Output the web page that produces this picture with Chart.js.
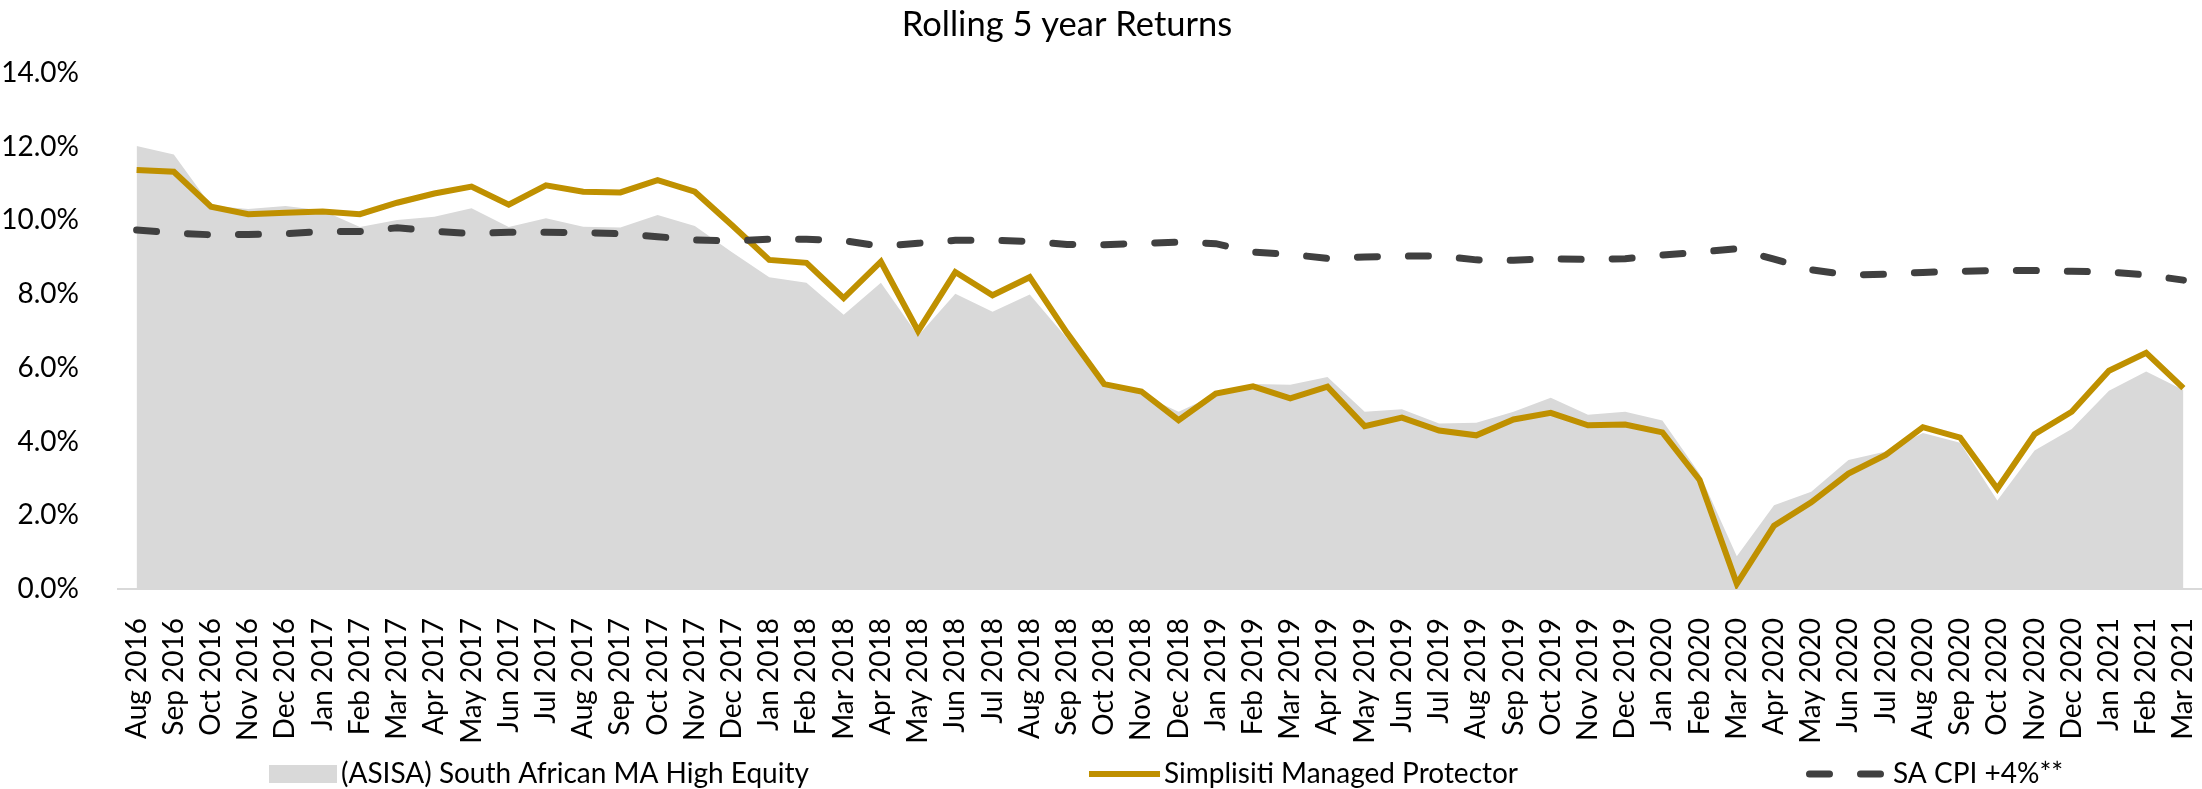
<!DOCTYPE html>
<html>
<head>
<meta charset="utf-8">
<title>Rolling 5 year Returns</title>
<script src="https://cdn.jsdelivr.net/npm/chart.js"></script>
<style>
  html, body { margin: 0; padding: 0; background: #fff; }
  #wrap { width: 2202px; height: 789px; position: relative; }
</style>
</head>
<body>
<div id="wrap"><canvas id="rollingChart"></canvas></div>
<script>
const months = [
  'Aug 2016', 'Sep 2016', 'Oct 2016', 'Nov 2016', 'Dec 2016',
  'Jan 2017', 'Feb 2017', 'Mar 2017', 'Apr 2017', 'May 2017', 'Jun 2017',
  'Jul 2017', 'Aug 2017', 'Sep 2017', 'Oct 2017', 'Nov 2017', 'Dec 2017',
  'Jan 2018', 'Feb 2018', 'Mar 2018', 'Apr 2018', 'May 2018', 'Jun 2018',
  'Jul 2018', 'Aug 2018', 'Sep 2018', 'Oct 2018', 'Nov 2018', 'Dec 2018',
  'Jan 2019', 'Feb 2019', 'Mar 2019', 'Apr 2019', 'May 2019', 'Jun 2019',
  'Jul 2019', 'Aug 2019', 'Sep 2019', 'Oct 2019', 'Nov 2019', 'Dec 2019',
  'Jan 2020', 'Feb 2020', 'Mar 2020', 'Apr 2020', 'May 2020', 'Jun 2020',
  'Jul 2020', 'Aug 2020', 'Sep 2020', 'Oct 2020', 'Nov 2020', 'Dec 2020',
  'Jan 2021', 'Feb 2021', 'Mar 2021'
];

// (ASISA) South African MA High Equity - sector average, %
const sectorReturns = [
  12.02, 11.79, 10.40, 10.31, 10.39,
  10.27, 9.82, 10.01, 10.10, 10.33, 9.82,
  10.06, 9.83, 9.81, 10.15, 9.85, 9.14,
  8.46, 8.31, 7.44, 8.31, 6.87, 8.01,
  7.52, 7.99, 6.80, 5.59, 5.28, 4.81,
  5.28, 5.56, 5.54, 5.75, 4.81, 4.88,
  4.49, 4.51, 4.81, 5.19, 4.73, 4.81,
  4.57, 3.13, 0.89, 2.27, 2.64, 3.50,
  3.73, 4.23, 3.97, 2.40, 3.76, 4.34,
  5.38, 5.90, 5.40
];

// Simplisiti Managed Protector, %
const fundReturns = [
  11.37, 11.32, 10.37, 10.17, 10.21,
  10.24, 10.17, 10.48, 10.73, 10.92, 10.43,
  10.95, 10.78, 10.76, 11.09, 10.78, 9.87,
  8.93, 8.85, 7.89, 8.88, 7.00, 8.60,
  7.97, 8.46, 6.95, 5.56, 5.36, 4.58,
  5.30, 5.50, 5.17, 5.49, 4.42, 4.65,
  4.30, 4.17, 4.60, 4.78, 4.44, 4.46,
  4.25, 2.96, 0.14, 1.72, 2.35, 3.13,
  3.64, 4.39, 4.11, 2.72, 4.20, 4.81,
  5.92, 6.41, 5.45
];

// SA CPI +4%**, %
const cpiReturns = [
  9.74, 9.66, 9.61, 9.62, 9.64,
  9.70, 9.70, 9.80, 9.71, 9.64, 9.68,
  9.68, 9.67, 9.64, 9.56, 9.47, 9.44,
  9.49, 9.49, 9.45, 9.30, 9.38, 9.46,
  9.46, 9.43, 9.35, 9.34, 9.38, 9.41,
  9.37, 9.14, 9.08, 8.97, 9.01, 9.03,
  9.04, 8.93, 8.92, 8.96, 8.94, 8.96,
  9.06, 9.14, 9.23, 8.95, 8.66, 8.52,
  8.54, 8.59, 8.62, 8.64, 8.64, 8.62,
  8.60, 8.52, 8.38
];

const yTicks = [0, 2, 4, 6, 8, 10, 12, 14];

Chart.defaults.font.family = 'Lato, "Open Sans", sans-serif';
Chart.defaults.color = '#000';

// Excel-style legend: three items spread across the bottom,
// title nudged a little left of the canvas centre like the original
const excelLayout = {
  id: 'excelLayout',
  slots: [[269, 68], [1089, 71], [1806, 83]],
  afterLayout(chart) {
    chart.titleBlock.right -= 68;
  },
  afterDraw(chart) {
    const ctx = chart.ctx;
    const y = 774;
    ctx.save();
    ctx.font = '28px Lato, "Open Sans", sans-serif';
    ctx.textBaseline = 'middle';
    chart.data.datasets.forEach((ds, i) => {
      const [x, w] = this.slots[i];
      if (ds.fill) {
        ctx.fillStyle = ds.backgroundColor;
        ctx.fillRect(x, y - 9, w, 18);
      } else {
        ctx.strokeStyle = ds.borderColor;
        ctx.lineWidth = ds.borderWidth;
        ctx.lineCap = ds.borderCapStyle || 'butt';
        ctx.setLineDash(ds.borderDash || []);
        const inset = ds.borderCapStyle === 'round' ? ds.borderWidth / 2 : 0;
        ctx.beginPath();
        ctx.moveTo(x + inset, y);
        ctx.lineTo(x + w - inset, y);
        ctx.stroke();
        ctx.setLineDash([]);
      }
      ctx.fillStyle = '#000';
      ctx.fillText(ds.label, x + w + 4, y);
    });
    ctx.restore();
  }
};

const rollingChart = new Chart(document.getElementById('rollingChart'), {
  type: 'line',
  data: {
    labels: months,
    datasets: [{
      label: '(ASISA) South African MA High Equity',
      data: sectorReturns,
      backgroundColor: '#d9d9d9',
      borderWidth: 0,
      fill: 'origin',
      order: 3
    }, {
      label: 'Simplisiti Managed Protector',
      data: fundReturns,
      borderColor: '#bf9000',
      borderWidth: 6,
      fill: false,
      order: 2
    }, {
      label: 'SA CPI +4%**',
      data: cpiReturns,
      borderColor: '#404040',
      borderWidth: 7,
      borderDash: [20, 31],
      borderCapStyle: 'round',
      fill: false,
      order: 1
    }]
  },
  options: {
    responsive: true,
    maintainAspectRatio: false,
    animation: false,
    events: [],
    elements: {
      point: { radius: 0 },
      line: { tension: 0 }
    },
    layout: { padding: 0 },
    plugins: {
      legend: { display: false },
      tooltip: { enabled: false },
      title: {
        display: true,
        text: 'Rolling 5 year Returns',
        color: '#000',
        font: { size: 34.5, weight: 'normal', lineHeight: 1.2 },
        padding: { top: 4, bottom: 27.6 }
      }
    },
    scales: {
      x: {
        offset: true,
        grid: { display: false },
        border: { display: true, color: '#d9d9d9', width: 2 },
        ticks: {
          autoSkip: false,
          maxRotation: 90,
          minRotation: 90,
          padding: 21,
          font: { size: 28 }
        },
        afterFit(axis) {
          axis.height = 200;
          axis.paddingLeft = 0;
          axis.paddingRight = 0;
        }
      },
      y: {
        min: 0,
        max: 14,
        grid: { display: false },
        border: { display: false },
        afterBuildTicks(axis) {
          axis.ticks = yTicks.map(v => ({ value: v }));
        },
        ticks: {
          padding: 31,
          font: { size: 28 },
          callback: v => v.toFixed(1) + '%'
        },
        afterFit(axis) {
          axis.width = 118;
        }
      }
    }
  },
  plugins: [excelLayout]
});
</script>
</body>
</html>
